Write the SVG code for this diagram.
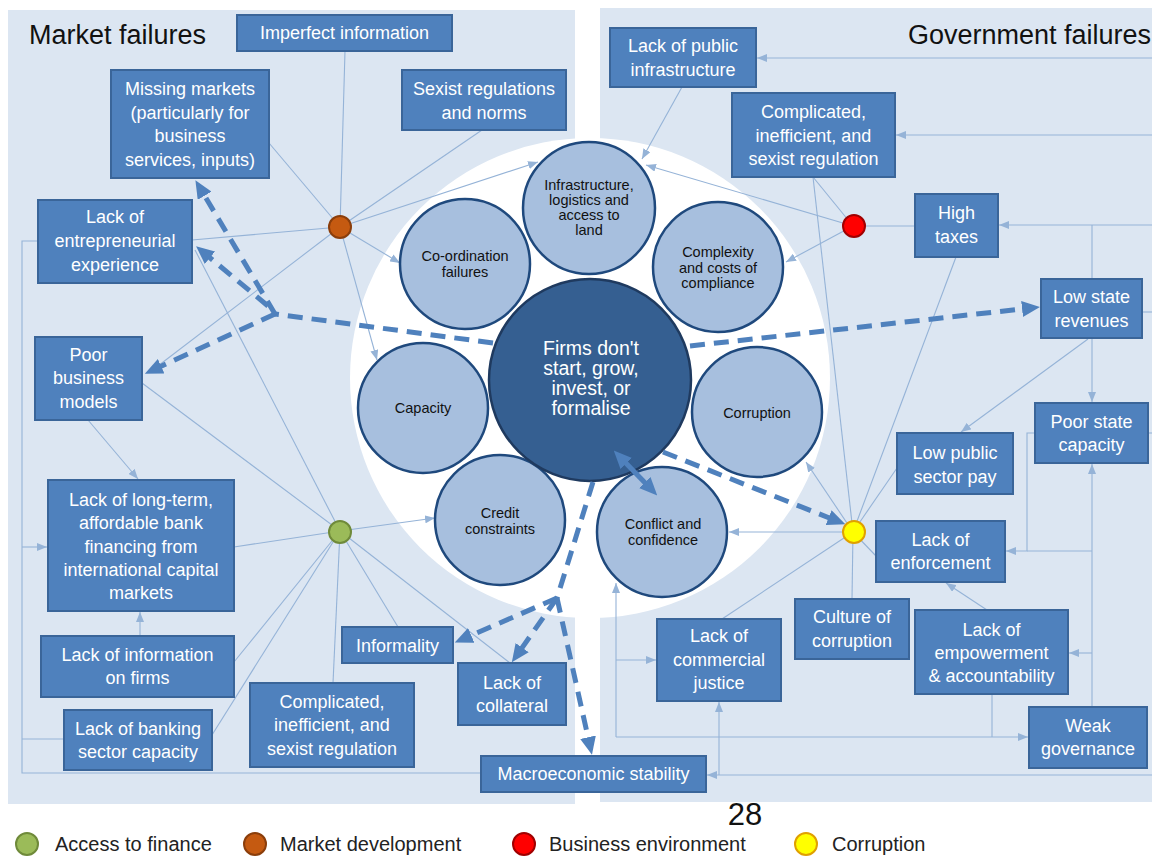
<svg xmlns="http://www.w3.org/2000/svg" width="1152" height="856" viewBox="0 0 1152 856">
<style>
.panel{fill:#dce6f2}
.box{fill:#4f81bd;stroke:#3a6599;stroke-width:2}
.bt{font-family:"Liberation Sans",Arial,sans-serif;font-size:18px;fill:#ffffff;text-anchor:middle}
.sc{fill:#a7bfde;stroke:#1f497d;stroke-width:2.5}
.ct{font-family:"Liberation Sans",Arial,sans-serif;font-size:14.5px;fill:#111111;text-anchor:middle}
.mt{font-family:"Liberation Sans",Arial,sans-serif;font-size:19.5px;fill:#ffffff;text-anchor:middle}
.ln{fill:none;stroke:#95b3d7;stroke-width:1.1}
.la{fill:none;stroke:#95b3d7;stroke-width:1.1;marker-end:url(#sa)}
.dl{fill:none;stroke:#4f81bd;stroke-width:5;stroke-dasharray:15 9}
.da{fill:none;stroke:#4f81bd;stroke-width:5;stroke-dasharray:15 9;marker-end:url(#ba)}
.title{font-family:"Liberation Sans",Arial,sans-serif;font-size:27px;fill:#111111}
.leg{font-family:"Liberation Sans",Arial,sans-serif;font-size:20px;fill:#222222}
</style>
<defs>
<marker id="sa" viewBox="0 0 10 8" refX="10" refY="4" markerWidth="10" markerHeight="8" markerUnits="userSpaceOnUse" orient="auto"><path d="M0,0 L10,4 L0,8 z" fill="#95b3d7"/></marker>
<marker id="ba" viewBox="0 0 18 16" refX="9" refY="8" markerWidth="18" markerHeight="16" markerUnits="userSpaceOnUse" orient="auto"><path d="M0,0 L18,8 L0,16 z" fill="#4f81bd"/></marker>
<marker id="bs" viewBox="0 0 18 16" refX="9" refY="8" markerWidth="18" markerHeight="16" markerUnits="userSpaceOnUse" orient="auto-start-reverse"><path d="M0,0 L18,8 L0,16 z" fill="#4f81bd"/></marker>
</defs>
<rect width="1152" height="856" fill="#ffffff"/>
<g id="panels">
<rect class="panel" x="8" y="10" width="567" height="794"/>
<rect class="panel" x="600" y="8" width="552" height="794"/>
<circle cx="590" cy="378" r="240" fill="#ffffff"/>
</g>
<text class="title" x="29" y="44">Market failures</text>
<text class="title" x="908" y="44">Government failures</text>
<g id="connectors">
<path class="ln" d="M345,51 L340,227"/>
<path class="ln" d="M269,143 L340,227"/>
<path class="ln" d="M482,130 L340,227"/>
<path class="ln" d="M192,240 L340,227"/>
<path class="la" d="M340,227 L400,263"/>
<path class="la" d="M340,227 L538,162"/>
<path class="la" d="M340,227 L377,360"/>
<path class="ln" d="M340,227 L150,372"/>
<path class="ln" d="M142,383 L340,531"/>
<path class="ln" d="M195,250 L340,531"/>
<path class="ln" d="M234,547 L340,531"/>
<path class="la" d="M340,531 L435,518"/>
<path class="ln" d="M234,662 L340,531"/>
<path class="ln" d="M212,735 L340,531"/>
<path class="ln" d="M333,683 L340,531"/>
<path class="ln" d="M398,627 L340,531"/>
<path class="ln" d="M510,663 L340,531"/>
<path class="la" d="M88,420 L138,479"/>
<path class="la" d="M140,636 L140,612"/>
<path class="ln" d="M38,241 H22 V773 H481"/>
<path class="la" d="M22,547 H47"/>
<path class="ln" d="M64,739 H22"/>
<path class="la" d="M1152,58 H757"/>
<path class="la" d="M1152,135 H896"/>
<path class="la" d="M1152,225 H999"/>
<path class="ln" d="M1092,279 V225"/>
<path class="ln" d="M1142,312 H1152"/>
<path class="la" d="M1092,338 V402"/>
<path class="la" d="M1088,339 L961,432"/>
<path class="ln" d="M1148,433 H1152"/>
<path class="la" d="M1035,433 H1027 V551 H1006"/>
<path class="la" d="M1092,707 V464"/>
<path class="ln" d="M1092,551 H1027"/>
<path class="la" d="M1092,653 H1069"/>
<path class="la" d="M987,610 L946,583"/>
<path class="ln" d="M992,694 V737"/>
<path class="la" d="M616,737 H1028"/>
<path class="la" d="M616,737 V583"/>
<path class="la" d="M616,660 H656"/>
<path class="la" d="M1152,775 H707"/>
<path class="la" d="M719,775 V702"/>
<path class="la" d="M682,87 L642,159"/>
<path class="la" d="M853,226 L646,165"/>
<path class="la" d="M853,226 L786,262"/>
<path class="ln" d="M915,226 L853,226"/>
<path class="ln" d="M813,177 L853,226"/>
<path class="ln" d="M813,177 L853,532"/>
<path class="ln" d="M956,257 L853,532"/>
<path class="ln" d="M897,468 L853,532"/>
<path class="ln" d="M876,556 L853,532"/>
<path class="ln" d="M852,599 L853,532"/>
<path class="ln" d="M722,619 L853,532"/>
<path class="la" d="M853,532 L729,532"/>
<path class="la" d="M853,532 L806,462"/>
</g>
<g id="n-imperfect"><rect class="box" x="237" y="15" width="215" height="36"/><text class="bt" x="344.5" y="39">Imperfect information</text></g>
<g id="n-missing"><rect class="box" x="111" y="70" width="158" height="108"/><text class="bt" x="190" y="95">Missing markets</text><text class="bt" x="190" y="118.5">(particularly for</text><text class="bt" x="190" y="142">business</text><text class="bt" x="190" y="165.5">services, inputs)</text></g>
<g id="n-sexist"><rect class="box" x="402" y="70" width="164" height="60"/><text class="bt" x="484" y="95">Sexist regulations</text><text class="bt" x="484" y="118.5">and norms</text></g>
<g id="n-entre"><rect class="box" x="38" y="200" width="154" height="83"/><text class="bt" x="115" y="223">Lack of</text><text class="bt" x="115" y="247">entrepreneurial</text><text class="bt" x="115" y="271">experience</text></g>
<g id="n-poorbiz"><rect class="box" x="35" y="337" width="107" height="83"/><text class="bt" x="88.5" y="361">Poor</text><text class="bt" x="88.5" y="384">business</text><text class="bt" x="88.5" y="408">models</text></g>
<g id="n-longterm"><rect class="box" x="48" y="480" width="186" height="131"/><text class="bt" x="141" y="506">Lack of long-term,</text><text class="bt" x="141" y="529">affordable bank</text><text class="bt" x="141" y="553">financing from</text><text class="bt" x="141" y="576">international capital</text><text class="bt" x="141" y="599">markets</text></g>
<g id="n-infofirms"><rect class="box" x="41" y="636" width="193" height="61"/><text class="bt" x="137.5" y="661">Lack of information</text><text class="bt" x="137.5" y="684">on firms</text></g>
<g id="n-banking"><rect class="box" x="64" y="710" width="148" height="60"/><text class="bt" x="138" y="735">Lack of banking</text><text class="bt" x="138" y="758">sector capacity</text></g>
<g id="n-complicated-l"><rect class="box" x="250" y="683" width="164" height="84"/><text class="bt" x="332" y="708">Complicated,</text><text class="bt" x="332" y="731">inefficient, and</text><text class="bt" x="332" y="755">sexist regulation</text></g>
<g id="n-informality"><rect class="box" x="342" y="627" width="111" height="36"/><text class="bt" x="397.5" y="652">Informality</text></g>
<g id="n-collateral"><rect class="box" x="458" y="663" width="108" height="62"/><text class="bt" x="512" y="689">Lack of</text><text class="bt" x="512" y="712">collateral</text></g>
<g id="n-macro"><rect class="box" x="481" y="756" width="225" height="36"/><text class="bt" x="593.5" y="780">Macroeconomic stability</text></g>
<g id="n-publicinfra"><rect class="box" x="610" y="28" width="146" height="59"/><text class="bt" x="683" y="52">Lack of public</text><text class="bt" x="683" y="76">infrastructure</text></g>
<g id="n-complicated-r"><rect class="box" x="732" y="93" width="163" height="84"/><text class="bt" x="813.5" y="118">Complicated,</text><text class="bt" x="813.5" y="142">inefficient, and</text><text class="bt" x="813.5" y="165">sexist regulation</text></g>
<g id="n-taxes"><rect class="box" x="915" y="194" width="83" height="63"/><text class="bt" x="956.5" y="219">High</text><text class="bt" x="956.5" y="243">taxes</text></g>
<g id="n-revenues"><rect class="box" x="1041" y="279" width="101" height="59"/><text class="bt" x="1091.5" y="303">Low state</text><text class="bt" x="1091.5" y="327">revenues</text></g>
<g id="n-statecap"><rect class="box" x="1035" y="403" width="113" height="60"/><text class="bt" x="1091.5" y="428">Poor state</text><text class="bt" x="1091.5" y="451">capacity</text></g>
<g id="n-pay"><rect class="box" x="897" y="433" width="116" height="61"/><text class="bt" x="955" y="459">Low public</text><text class="bt" x="955" y="483">sector pay</text></g>
<g id="n-enforcement"><rect class="box" x="876" y="521" width="129" height="61"/><text class="bt" x="940.5" y="546">Lack of</text><text class="bt" x="940.5" y="569">enforcement</text></g>
<g id="n-culture"><rect class="box" x="795" y="599" width="114" height="60"/><text class="bt" x="852" y="623">Culture of</text><text class="bt" x="852" y="647">corruption</text></g>
<g id="n-justice"><rect class="box" x="657" y="619" width="124" height="82"/><text class="bt" x="719" y="642">Lack of</text><text class="bt" x="719" y="666">commercial</text><text class="bt" x="719" y="689">justice</text></g>
<g id="n-empower"><rect class="box" x="915" y="610" width="153" height="84"/><text class="bt" x="991.5" y="636">Lack of</text><text class="bt" x="991.5" y="659">empowerment</text><text class="bt" x="991.5" y="682">&amp; accountability</text></g>
<g id="n-governance"><rect class="box" x="1029" y="707" width="118" height="61"/><text class="bt" x="1088" y="732">Weak</text><text class="bt" x="1088" y="755">governance</text></g>
<g id="c-infra"><circle class="sc" cx="589" cy="208" r="66"/><text class="ct" x="589" y="190">Infrastructure,</text><text class="ct" x="589" y="205">logistics and</text><text class="ct" x="589" y="220">access to</text><text class="ct" x="589" y="235">land</text></g>
<g id="c-coord"><circle class="sc" cx="465" cy="264" r="65"/><text class="ct" x="465" y="261">Co-ordination</text><text class="ct" x="465" y="277">failures</text></g>
<g id="c-complex"><circle class="sc" cx="718" cy="267" r="65"/><text class="ct" x="718" y="257">Complexity</text><text class="ct" x="718" y="273">and costs of</text><text class="ct" x="718" y="288">compliance</text></g>
<g id="c-capacity"><circle class="sc" cx="423" cy="408" r="65"/><text class="ct" x="423" y="413">Capacity</text></g>
<g id="c-corruption"><circle class="sc" cx="757" cy="412" r="65"/><text class="ct" x="757" y="418">Corruption</text></g>
<g id="c-credit"><circle class="sc" cx="500" cy="520" r="65"/><text class="ct" x="500" y="518">Credit</text><text class="ct" x="500" y="534">constraints</text></g>
<g id="c-conflict"><circle class="sc" cx="662" cy="532" r="65"/><text class="ct" x="663" y="529">Conflict and</text><text class="ct" x="663" y="545">confidence</text></g>
<g id="c-firms"><circle cx="590" cy="380" r="101" fill="#355f91" stroke="#1f3a5f" stroke-width="2.5"/><text class="mt" x="591" y="355">Firms don't</text><text class="mt" x="591" y="375">start, grow,</text><text class="mt" x="591" y="395">invest, or</text><text class="mt" x="591" y="415">formalise</text></g>
<g id="dashed-connectors">
<path class="dl" d="M493,343 L275,314"/>
<path class="da" d="M275,314 L200,188"/>
<path class="da" d="M268,306 L203,252"/>
<path class="da" d="M275,314 L153,370"/>
<path class="da" d="M690,346 L1031,308"/>
<path class="da" d="M663,452 L837,521"/>
<path class="dl" d="M593,482 L557,598"/>
<path class="da" d="M557,598 L463,639"/>
<path class="da" d="M557,598 L517,655"/>
<path class="da" d="M557,598 L590,746"/>
<path d="M620,457 L651,489" fill="none" stroke="#4f81bd" stroke-width="5" marker-start="url(#bs)" marker-end="url(#bs)"/>
</g>
<g id="dots">
<circle cx="340" cy="227" r="11" fill="#c55a11" stroke="#8b3e0b" stroke-width="2"/>
<circle cx="854" cy="226" r="11" fill="#ff0000" stroke="#a00000" stroke-width="2"/>
<circle cx="340" cy="532" r="11" fill="#9bbb59" stroke="#6f8a3a" stroke-width="2"/>
<circle cx="854" cy="532" r="11" fill="#ffff00" stroke="#e0a000" stroke-width="2"/>
</g>
<text x="745" y="825" font-family="'Liberation Sans',Arial,sans-serif" font-size="31" fill="#111111" text-anchor="middle">28</text>
<g id="legend">
<circle cx="27" cy="844" r="11" fill="#9bbb59" stroke="#6f8a3a" stroke-width="2"/><text class="leg" x="55" y="851">Access to finance</text>
<circle cx="255" cy="844" r="11" fill="#c55a11" stroke="#8b3e0b" stroke-width="2"/><text class="leg" x="280" y="851">Market development</text>
<circle cx="524" cy="844" r="11" fill="#ff0000" stroke="#a00000" stroke-width="2"/><text class="leg" x="549" y="851">Business environment</text>
<circle cx="806" cy="844" r="11" fill="#ffff00" stroke="#e0a000" stroke-width="2"/><text class="leg" x="832" y="851">Corruption</text>
</g>
</svg>
